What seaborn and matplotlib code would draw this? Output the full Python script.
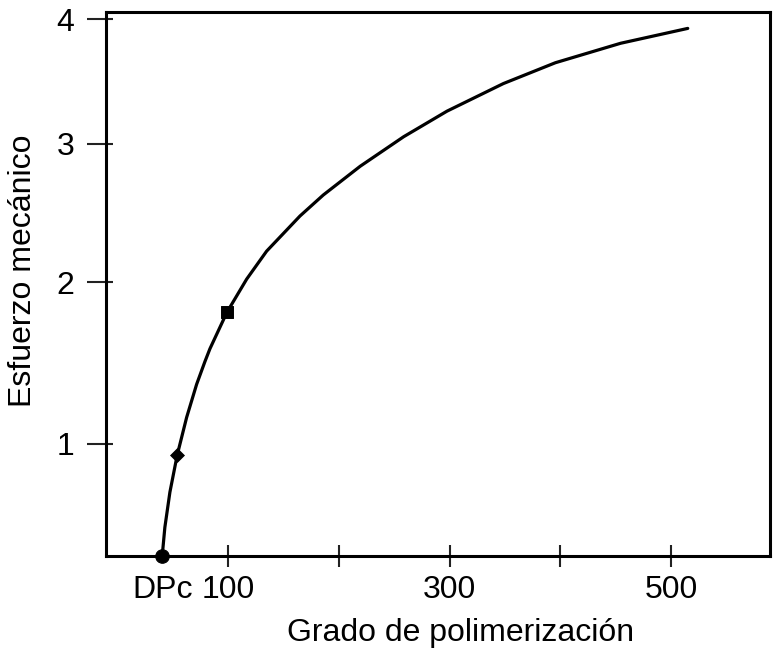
import numpy as np
import pandas as pd
import matplotlib
matplotlib.use("Agg")
import matplotlib.pyplot as plt
import seaborn as sns

# ---- data ----
curve_x = [40.7, 43.1, 47.65, 54.24, 62.73, 71.75, 79.24, 83.75, 99.1, 116.9,
           134.9, 165.0, 186.0, 219.3, 258.5, 297.6, 348.5, 395.4, 454.2, 514.8]
curve_y = [0.445, 0.574, 0.745, 0.939, 1.149, 1.344, 1.483, 1.563, 1.798, 2.020,
           2.213, 2.463, 2.616, 2.830, 3.055, 3.254, 3.473, 3.641, 3.800, 3.923]

dpc_x, dpc_y = [40.7], [0.445]
diamond_x, diamond_y = [54.24], [0.939]
square_x, square_y = [99.1], [1.798]

x_ticks = [40.7, 100, 200, 300, 400, 500]
x_ticklabels = ["DPc", "100", "", "300", "", "500"]
y_ticks = [1, 2, 3, 4]
y_ticklabels = ["1", "2", "3", "4"]

sns.set_theme(style="white")
plt.rcParams["font.family"] = ["Liberation Sans", "DejaVu Sans"]

fig = plt.figure(figsize=(7.76, 6.60), dpi=100)
ax = fig.add_axes([106 / 776, 1 - 556 / 660, 664 / 776, 544 / 660])

def fwd(y):
    y = np.asarray(y, dtype=float)
    return np.sign(y) * np.abs(y) ** 0.7

def inv(y):
    y = np.asarray(y, dtype=float)
    return np.sign(y) * np.abs(y) ** (1 / 0.7)

ax.set_yscale("function", functions=(fwd, inv))

df = pd.DataFrame({"x": curve_x, "y": curve_y})
sns.lineplot(data=df, x="x", y="y", sort=False, estimator=None, color="black",
             linewidth=2.3, ax=ax)

sns.scatterplot(x=dpc_x, y=dpc_y, marker="o", s=95, color="black",
                edgecolor="black", ax=ax, clip_on=False, zorder=5)
sns.scatterplot(x=diamond_x, y=diamond_y, marker="D", s=50, color="black",
                edgecolor="black", ax=ax, zorder=5)
sns.scatterplot(x=square_x, y=square_y, marker="s", s=75, color="black",
                edgecolor="black", ax=ax, zorder=5)

ax.set_xlim(-10, 589)
ax.set_ylim(0.445, 4.06)

ax.set_xticks(x_ticks)
ax.set_xticklabels(x_ticklabels)
ax.set_yticks(y_ticks)
ax.set_yticklabels(y_ticklabels)
ax.yaxis.remove_overlapping_locs = False
ax.set_yticks(y_ticks, minor=True)

ax.tick_params(axis="x", which="major", direction="inout", length=16, width=1.5,
               colors="#222222", labelsize=23, pad=6, bottom=True)
ax.tick_params(axis="y", which="major", direction="out", length=14, width=1.5,
               colors="#222222", labelsize=23, pad=9, left=True)
ax.tick_params(axis="y", which="minor", direction="in", length=5, width=1.5,
               colors="#222222", left=True)
for lab in ax.get_xticklabels() + ax.get_yticklabels():
    lab.set_color("black")

t0 = ax.xaxis.get_major_ticks()[0]
t0.tick1line.set_visible(False)
t0.tick2line.set_visible(False)

for s in ax.spines.values():
    s.set_visible(True)
    s.set_color("black")
    s.set_linewidth(2.2)

ax.set_xlabel("Grado de polimerización", fontsize=23, color="black")
ax.set_ylabel("Esfuerzo mecánico", fontsize=23, color="black")
ax.xaxis.set_label_coords((461 - 106) / 664, -(618 - 556) / 544)
ax.yaxis.set_label_coords((38 - 106) / 664, (556 - 271) / 544)

fig.savefig("out.png", dpi=100, facecolor="white")
